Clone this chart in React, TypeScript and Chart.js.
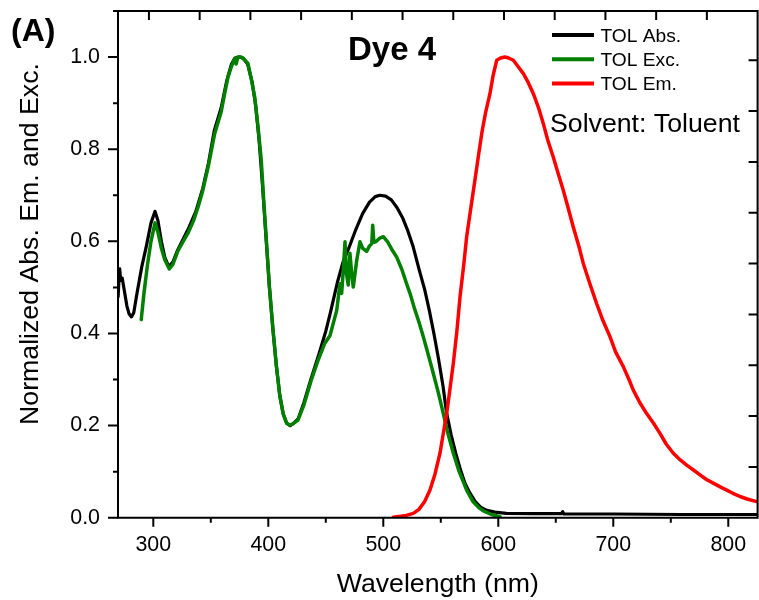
import React, { useEffect, useRef } from "react";
import { Chart, registerables } from "chart.js";

Chart.register(...registerables);

// ---- Data ----
const absWavelength = [
  269.4, 270.2, 270.8, 271.6, 273, 275, 277, 279, 281, 283, 286, 290, 294, 298, 301.5, 304, 307, 310, 313.5,
  317, 321, 326, 331, 337, 343, 348, 353, 359, 364, 368, 371, 375, 378, 382, 386, 389, 392, 395, 398, 401,
  404, 407, 410, 413, 416, 419, 422, 426, 431, 437, 444, 450, 454, 460, 465, 470, 476, 482, 488, 493, 497,
  502, 507, 512, 517, 521, 526, 531, 536, 540, 544, 548, 552, 555, 559, 563, 567, 571, 575, 580, 585, 590,
  597, 607, 630, 655, 656, 657, 700, 760, 825,
];
const absIntensity = [
  0.48, 0.52, 0.54, 0.515, 0.52, 0.49, 0.46, 0.442, 0.436, 0.445, 0.49, 0.545, 0.59, 0.64, 0.665, 0.645, 0.6,
  0.565, 0.545, 0.555, 0.58, 0.605, 0.63, 0.665, 0.715, 0.77, 0.84, 0.89, 0.95, 0.985, 0.998, 1.0, 0.998,
  0.985, 0.945, 0.895, 0.82, 0.72, 0.61, 0.5, 0.41, 0.33, 0.265, 0.225, 0.205, 0.2, 0.205, 0.215, 0.25, 0.3,
  0.355, 0.405, 0.445, 0.51, 0.555, 0.585, 0.625, 0.66, 0.685, 0.697, 0.7, 0.698, 0.69, 0.673, 0.65, 0.625,
  0.588, 0.54, 0.495, 0.45, 0.4, 0.345, 0.285, 0.228, 0.18, 0.14, 0.105, 0.075, 0.055, 0.035, 0.022, 0.016,
  0.012, 0.0095, 0.009, 0.009, 0.013, 0.008, 0.008, 0.007, 0.007,
];

const excWavelength = [
  289.5, 292, 295, 298, 301.5, 304, 307, 310, 313.9, 317, 321.5, 326, 330, 335, 339, 343, 348, 353.4, 359,
  362, 365, 368, 370.8, 372, 373.5, 376.5, 379, 382.3, 385, 388.2, 391, 393.9, 396, 398.3, 401, 404, 407,
  410, 413, 416, 418.6, 421, 425.8, 431, 437.4, 443, 449, 453.6, 459.5, 462.3, 463.8, 465, 466.7, 468,
  469.5, 471, 472.5, 473.9, 476.9, 479.7, 482, 485.5, 488, 490, 490.8, 491.8, 494, 497, 500, 504, 508,
  511.6, 516, 520, 523.2, 527, 531, 534.8, 539, 543.5, 548, 552.2, 556, 560.9, 566, 572.5, 578, 583, 587,
  594, 601.5,
];
const excIntensity = [
  0.43, 0.49, 0.55, 0.6, 0.64, 0.62, 0.585, 0.56, 0.54, 0.55, 0.58, 0.6, 0.617, 0.645, 0.675, 0.71, 0.765,
  0.834, 0.881, 0.92, 0.957, 0.98, 0.997, 0.985, 1.0, 1.0, 0.995, 0.986, 0.955, 0.913, 0.85, 0.776, 0.69,
  0.602, 0.5, 0.41, 0.33, 0.265, 0.225, 0.205, 0.201, 0.203, 0.212, 0.245, 0.299, 0.34, 0.378, 0.395, 0.45,
  0.508, 0.487, 0.53, 0.599, 0.53, 0.505, 0.574, 0.53, 0.501, 0.559, 0.599, 0.585, 0.578, 0.59, 0.595,
  0.635, 0.598, 0.6, 0.607, 0.61, 0.598, 0.58, 0.566, 0.54, 0.51, 0.487, 0.455, 0.425, 0.393, 0.355, 0.313,
  0.27, 0.226, 0.185, 0.14, 0.1, 0.06, 0.035, 0.022, 0.015, 0.007, 0.002,
];

const emWavelength = [
  508.7, 515, 520, 526.1, 531, 536, 540.6, 545, 549.3, 552, 555.1, 558, 560.9, 564, 566.7, 570, 572.5, 576,
  579.7, 583, 586, 589, 592.8, 595.5, 598.6, 602, 605.8, 609, 613.1, 617, 621.8, 626, 630.4, 635, 639.1,
  643, 647.8, 652, 656.5, 661, 665.2, 670, 673.9, 680, 685.5, 691, 697.1, 702, 708.7, 714.5, 717.4, 723,
  729, 735, 740.6, 746, 752.2, 758, 763.8, 770, 775.4, 781, 786.9, 793, 798.6, 804, 810.2, 817, 824.7,
];
const emIntensity = [
  0.001, 0.003, 0.005, 0.0095, 0.018, 0.035, 0.06, 0.095, 0.14, 0.18, 0.226, 0.28, 0.335, 0.405, 0.479,
  0.55, 0.61, 0.67, 0.733, 0.79, 0.84, 0.88, 0.921, 0.96, 0.993, 0.998, 1.0, 0.998, 0.993, 0.98, 0.964,
  0.945, 0.921, 0.89, 0.856, 0.82, 0.783, 0.748, 0.711, 0.67, 0.631, 0.59, 0.552, 0.505, 0.465, 0.428,
  0.393, 0.36, 0.328, 0.295, 0.277, 0.25, 0.226, 0.205, 0.183, 0.16, 0.14, 0.126, 0.114, 0.103, 0.093,
  0.083, 0.075, 0.067, 0.06, 0.053, 0.046, 0.04, 0.035,
];

const seriesLabels = ["TOL Abs.", "TOL Exc.", "TOL Em."];
const seriesColors = ["#000000", "#008000", "#ff0000"];

// ---- Axes ----
const xRange = [269.3, 825.5];
const yRange = [0, 1.1];
const xTickValues = [300, 400, 500, 600, 700, 800];
const xMinorTickValues = [350, 450, 550, 650, 750];
const yTickValues = [0, 0.2, 0.4, 0.6, 0.8, 1.0];
const yMinorTickValues = [0.1, 0.3, 0.5, 0.7, 0.9, 1.1];
// mirror axes (top / right) carry their own unlabeled tick sets
const topAxisRange = [-0.61, 12];
const topTickValues = [0, 1, 2, 3, 4, 5, 6, 7, 8, 9, 10, 11];
const rightAxisRange = [0, 9.97];
const rightTickValues = [1, 2, 3, 4, 5, 6, 7, 8, 9];

const xTitle = "Wavelength (nm)";
const yTitle = "Normalized Abs. Em. and Exc.";
const panelLabel = "(A)";
const dyeLabel = "Dye 4";
const solventLabel = "Solvent: Toluent";

const FONT = '"Liberation Sans", Arial, Helvetica, sans-serif';

function pairs(xs: number[], ys: number[]) {
  return xs.map((x, i) => ({ x, y: ys[i] }));
}

function zeroPad(s: any) {
  s.paddingTop = 0;
  s.paddingBottom = 0;
  s.paddingLeft = 0;
  s.paddingRight = 0;
}

export default function App() {
  const canvasRef = useRef<HTMLCanvasElement | null>(null);

  useEffect(() => {
    document.body.style.margin = "0";
    const canvas = canvasRef.current;
    if (!canvas) return;

    const decor = {
      id: "decor",
      afterDatasetsDraw(chart: any) {
        const { ctx, chartArea } = chart;
        const { left, right, top, bottom } = chartArea;
        const xs = chart.scales.x;
        const ys = chart.scales.y;
        const xt = chart.scales.x2;
        const yr = chart.scales.y2;
        ctx.save();
        ctx.strokeStyle = "#000";
        ctx.lineWidth = 2;
        ctx.lineCap = "butt";
        // frame
        ctx.beginPath();
        ctx.moveTo(left, top);
        ctx.lineTo(right, top);
        ctx.lineTo(right, bottom);
        ctx.lineTo(left, bottom);
        ctx.closePath();
        ctx.stroke();
        // bottom ticks (outward)
        ctx.beginPath();
        xTickValues.forEach((v) => {
          const p = xs.getPixelForValue(v);
          ctx.moveTo(p, bottom);
          ctx.lineTo(p, bottom + 9);
        });
        xMinorTickValues.forEach((v) => {
          const p = xs.getPixelForValue(v);
          ctx.moveTo(p, bottom);
          ctx.lineTo(p, bottom + 5);
        });
        // left ticks (outward)
        yTickValues.forEach((v) => {
          const p = ys.getPixelForValue(v);
          ctx.moveTo(left, p);
          ctx.lineTo(left - 10, p);
        });
        yMinorTickValues.forEach((v) => {
          const p = ys.getPixelForValue(v);
          ctx.moveTo(left, p);
          ctx.lineTo(left - 5, p);
        });
        // top ticks (inward)
        topTickValues.forEach((v) => {
          const p = xt.getPixelForValue(v);
          ctx.moveTo(p, top);
          ctx.lineTo(p, top + 9);
        });
        // right ticks (inward)
        rightTickValues.forEach((v) => {
          const p = yr.getPixelForValue(v);
          ctx.moveTo(right, p);
          ctx.lineTo(right - 9, p);
        });
        ctx.stroke();

        ctx.fillStyle = "#000";
        // axis titles
        ctx.font = `26.7px ${FONT}`;
        ctx.textAlign = "center";
        ctx.textBaseline = "alphabetic";
        ctx.fillText(xTitle, (left + right) / 2, 592);
        ctx.save();
        ctx.translate(38, 244);
        ctx.rotate(-Math.PI / 2);
        ctx.fillText(yTitle, 0, 0);
        ctx.restore();

        // panel & dye labels
        ctx.textAlign = "left";
        ctx.font = `bold 32px ${FONT}`;
        ctx.fillText(panelLabel, 11, 41);
        ctx.font = `bold 33px ${FONT}`;
        ctx.fillText(dyeLabel, 348, 60);

        // legend
        const ds = chart.data.datasets;
        ctx.font = `19.2px ${FONT}`;
        ds.forEach((d: any, i: number) => {
          const ly = 35 + i * 24.2;
          ctx.strokeStyle = d.borderColor;
          ctx.lineWidth = 4;
          ctx.beginPath();
          ctx.moveTo(552, ly);
          ctx.lineTo(594, ly);
          ctx.stroke();
          ctx.fillStyle = "#000";
          ctx.fillText(d.label, 600.5, ly + 6.8);
        });

        ctx.font = `26.7px ${FONT}`;
        ctx.fillText(solventLabel, 550, 131.5);
        ctx.restore();
      },
    };

    const chart = new Chart(canvas, {
      type: "line",
      data: {
        datasets: [
          {
            label: seriesLabels[0],
            data: pairs(absWavelength, absIntensity),
            borderColor: seriesColors[0],
            borderWidth: 3.2,
            order: 3,
          },
          {
            label: seriesLabels[1],
            data: pairs(excWavelength, excIntensity),
            borderColor: seriesColors[1],
            borderWidth: 3.5,
            order: 2,
          },
          {
            label: seriesLabels[2],
            data: pairs(emWavelength, emIntensity),
            borderColor: seriesColors[2],
            borderWidth: 3.5,
            order: 1,
          },
        ],
      },
      options: {
        responsive: false,
        animation: false,
        devicePixelRatio: 1,
        events: [],
        layout: { padding: { top: 11, right: 1.4, left: 0, bottom: 0 } },
        elements: {
          point: { radius: 0 },
          line: { tension: 0, borderJoinStyle: "round", borderCapStyle: "round", fill: false },
        },
        plugins: {
          legend: { display: false },
          tooltip: { enabled: false },
          title: { display: false },
        },
        scales: {
          x: {
            type: "linear",
            position: "bottom",
            min: xRange[0],
            max: xRange[1],
            afterBuildTicks: (s: any) => {
              s.ticks = xTickValues.map((v) => ({ value: v }));
            },
            afterFit: (s: any) => {
              s.height = 82.3;
              zeroPad(s);
            },
            grid: { display: false, drawTicks: false },
            border: { display: false },
            ticks: {
              padding: 15,
              autoSkip: false,
              maxRotation: 0,
              color: "#000",
              font: { family: FONT, size: 21.4 },
              callback: (v: any) => String(v),
            },
          },
          y: {
            type: "linear",
            position: "left",
            min: yRange[0],
            max: yRange[1],
            afterBuildTicks: (s: any) => {
              s.ticks = yTickValues.map((v) => ({ value: v }));
            },
            afterFit: (s: any) => {
              s.width = 118;
              zeroPad(s);
            },
            grid: { display: false, drawTicks: false },
            border: { display: false },
            ticks: {
              padding: 18,
              autoSkip: false,
              color: "#000",
              font: { family: FONT, size: 21.4 },
              callback: (v: any) => Number(v).toFixed(1),
            },
          },
          x2: {
            type: "linear",
            position: "top",
            display: false,
            min: topAxisRange[0],
            max: topAxisRange[1],
            afterFit: zeroPad,
          },
          y2: {
            type: "linear",
            position: "right",
            display: false,
            min: rightAxisRange[0],
            max: rightAxisRange[1],
            afterFit: zeroPad,
          },
        },
      } as any,
      plugins: [decor],
    });

    return () => chart.destroy();
  }, []);

  return (
    <div style={{ width: 759, height: 600, background: "#fff" }}>
      <canvas ref={canvasRef} width={759} height={600} style={{ display: "block" }} />
    </div>
  );
}
